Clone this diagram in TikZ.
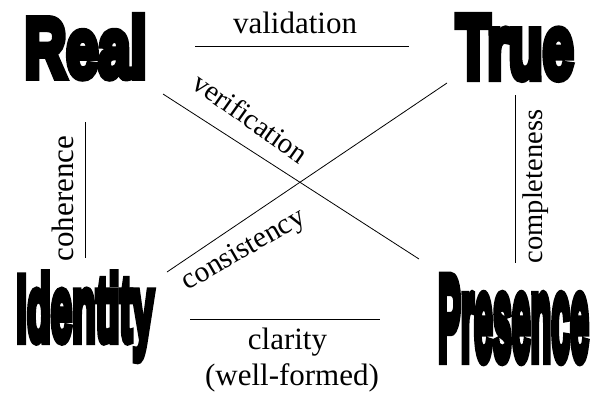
\documentclass[tikz,border=0pt]{standalone}
\usepackage{fontspec}
\usepackage{graphicx}
\setmainfont{Liberation Serif}
\newfontface\heavy{Liberation Sans Bold}[FakeBold=9]
\newcommand\bigword[3]{\resizebox{#1pt}{#2pt}{\heavy\fontsize{10}{12}\selectfont #3}}
\begin{document}
\begin{tikzpicture}[x=1pt,y=-1pt,
  word/.style={inner sep=0pt, anchor=base west},
  lbl/.style={inner sep=0pt, anchor=base, font=\fontsize{31}{36}\selectfont},
  rel/.style={line width=0.8pt}]
\useasboundingbox (0,0) rectangle (592,397);
\fill[white] (0,0) rectangle (592,397);

\node[word] (real) at (24.3,77.1) {\bigword{122.1}{61.3}{Real}};
\node[word] (true) at (456.1,78.1) {\bigword{117.3}{62.2}{True}};
\node[word] (identity) at (16.1,340.8) {\bigword{137.6}{67.5}{Identity}};
\node[word] (presence) at (438,359.8) {\bigword{150.8}{82.6}{Presence}};

\coordinate (va) at (195,46);   \coordinate (vb) at (409,46);
\coordinate (ca) at (190,319.5); \coordinate (cb) at (380,319.5);
\coordinate (ha) at (85.5,122); \coordinate (hb) at (85.5,258);
\coordinate (pa) at (515,95);   \coordinate (pb) at (515,263);
\coordinate (ra) at (163,94);   \coordinate (rb) at (419,259);
\coordinate (ia) at (167,272);  \coordinate (ib) at (447,83);

\draw[rel] (va) -- (vb);
\draw[rel] (ca) -- (cb);
\draw[rel] (ha) -- (hb);
\draw[rel] (pa) -- (pb);
\draw[rel] (ra) -- (rb);
\draw[rel] (ia) -- (ib);

\node[lbl] (validation) at (295,33) {validation};
\node[lbl] (clarity) at (287.5,349) {clarity};
\node[lbl] (wellformed) at (292,385) {(well-formed)};
\node[lbl, rotate=90] (coherence) at (73,198.5) {coherence};
\node[lbl, rotate=90, font=\fontsize{28.5}{34}\selectfont] (completeness) at (542,186.5) {completeness};
\node[lbl, rotate=-35.5, font=\fontsize{29}{34}\selectfont] (verification) at (245,126) {verification};
\node[lbl, rotate=30, font=\fontsize{29.5}{34}\selectfont] (consistency) at (247.5,256.5) {consistency};
\end{tikzpicture}
\end{document}
